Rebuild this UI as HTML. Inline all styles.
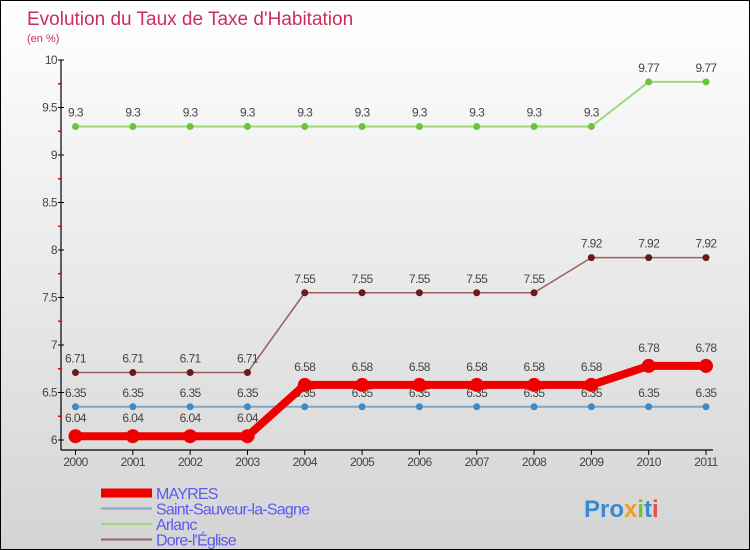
<!DOCTYPE html>
<html><head><meta charset="utf-8"><style>
html,body{margin:0;padding:0}
body{width:750px;height:550px;overflow:hidden;font-family:"Liberation Sans",sans-serif}
#wrap{position:absolute;left:0;top:0;width:748px;height:548px;border:1px solid #000;background:linear-gradient(#ffffff,#d4d4d4)}
</style></head><body>
<div id="wrap">
<svg id="chart" width="748" height="548" style="position:absolute;left:0;top:0">
<text x="26" y="24" font-size="19" fill="#c8305a">Evolution du Taux de Taxe d'Habitation</text>
<text x="26" y="41" font-size="11" fill="#c8305a">(en %)</text>
</svg>
</div>
<script>
const years=[2000,2001,2002,2003,2004,2005,2006,2007,2008,2009,2010,2011];
const mayres=[6.04,6.04,6.04,6.04,6.58,6.58,6.58,6.58,6.58,6.58,6.78,6.78];
const stSauveur=[6.35,6.35,6.35,6.35,6.35,6.35,6.35,6.35,6.35,6.35,6.35,6.35];
const arlanc=[9.3,9.3,9.3,9.3,9.3,9.3,9.3,9.3,9.3,9.3,9.77,9.77];
const dore=[6.71,6.71,6.71,6.71,7.55,7.55,7.55,7.55,7.55,7.92,7.92,7.92];
const yTicks=[6,6.5,7,7.5,8,8.5,9,9.5,10];
const yTickLabels=["6","6.5","7","7.5","8","8.5","9","9.5","10"];
const svg=document.getElementById('chart');const NS='http://www.w3.org/2000/svg';
const X=i=>74.5+i*(705-74.5)/11;
const Y=v=>439-(v-6)*(439-59)/4;
function el(t,a,p){const e=document.createElementNS(NS,t);for(const k in a)e.setAttribute(k,a[k]);(p||svg).appendChild(e);return e;}
let ax=el('line',{x1:60,y1:59,x2:60,y2:449,stroke:'#000','stroke-width':1.2});


let bx=el('line',{x1:60,y1:449,x2:712,y2:449,stroke:'#000','stroke-width':1.2});


yTicks.forEach((v,i)=>{
 el('line',{x1:57,y1:Y(v),x2:63,y2:Y(v),stroke:'#000'});
 if(i<yTicks.length-1)el('line',{x1:57,y1:Y(v+0.25),x2:61,y2:Y(v+0.25),stroke:'#e00','stroke-width':1.5});
 const t=el('text',{x:56,y:Y(v)+4,'font-size':12,fill:'#444','text-anchor':'end','letter-spacing':'-0.6'});t.textContent=yTickLabels[i];
 
 
});
years.forEach((y,i)=>{
 el('line',{x1:X(i),y1:449,x2:X(i),y2:454,stroke:'#000'});
 const t=el('text',{x:X(i),y:465,'font-size':12,fill:'#444','text-anchor':'middle','letter-spacing':'-0.6'});t.textContent=y;
 
 
});
function series(data,color,dot,w,r,name,lblOff){
 const g=el('g',{});
 
 
 el('polyline',{points:data.map((v,i)=>X(i)+','+Y(v)).join(' '),fill:'none',stroke:color,'stroke-width':w,'stroke-linejoin':'round'},g);
 data.forEach((v,i)=>{
  const c=el('circle',{cx:X(i),cy:Y(v),r:r,fill:dot},g);
  
  
  const t=el('text',{x:X(i),y:Y(v)-lblOff,'font-size':12,fill:'#444','text-anchor':'middle','letter-spacing':'-0.6'},g);t.textContent=v;
 });
}
series(stSauveur,'#7fa8c8','#3d8ac8',2,3.5,'series-saint-sauveur',10);
series(arlanc,'#9ed87a','#6cc43c',2,3.5,'series-arlanc',10);
series(dore,'#9a6060','#6a1a1a',1.5,3.5,'series-dore-l-eglise',10);
series(mayres,'#ee0000','#ee0000',8,7,'series-mayres',14);
const legend=[['MAYRES','#ee0000',9],['Saint-Sauveur-la-Sagne','#7fa8c8',2],['Arlanc','#9ed87a',2],['Dore-l\'Église','#9a6060',2]];
legend.forEach((l,i)=>{
 const yy=492+i*15.5;
 const g=el('g',{});
 
 
 el('line',{x1:100,y1:yy,x2:151,y2:yy,stroke:l[1],'stroke-width':l[2]},g);
 const t=el('text',{x:155,y:yy+6,'font-size':16,fill:'#5a5af0','letter-spacing':'-0.8'},g);t.textContent=l[0];
});
const lg=el('text',{x:583,y:516,'font-size':24,'font-weight':'bold',fill:'#3a8ad0'});


[['Pro','#3a8ad0'],['x','#f0a020'],['i','#6cc43c'],['t','#3a8ad0'],['i','#e05050']].forEach(p=>{const s=el('tspan',{fill:p[1]},lg);s.textContent=p[0];});
</script>
</body></html>
